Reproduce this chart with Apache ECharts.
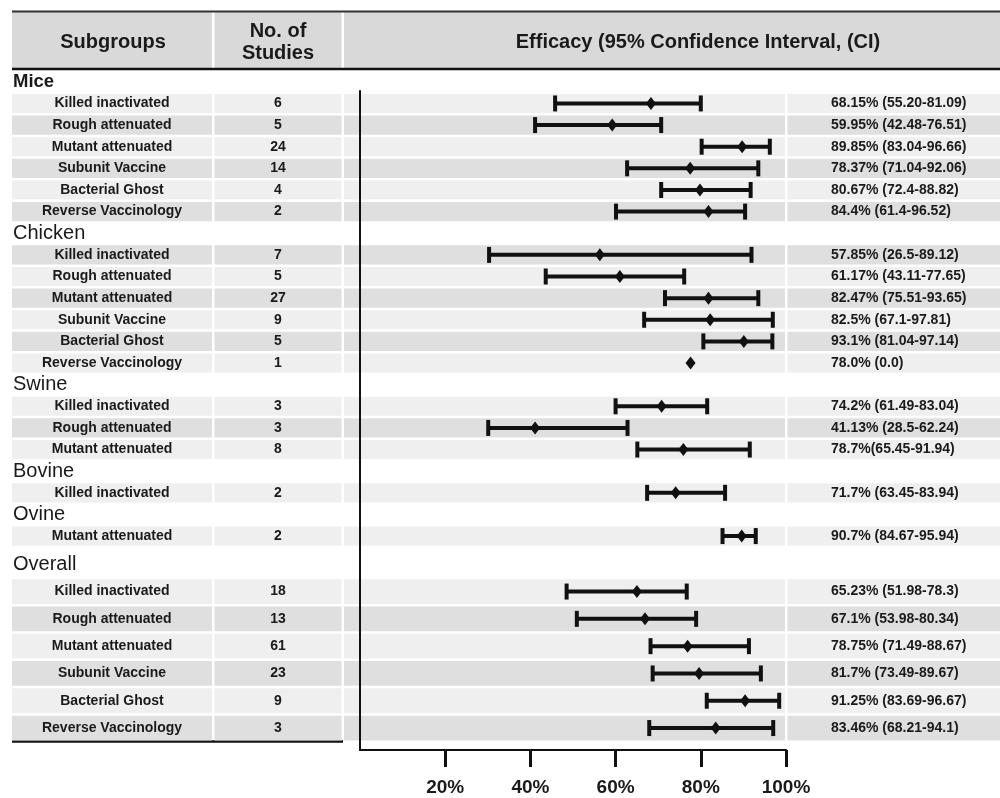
<!DOCTYPE html>
<html>
<head>
<meta charset="utf-8">
<script src="https://cdn.jsdelivr.net/npm/echarts@6/dist/echarts.min.js"></script>
<style>html,body{margin:0;padding:0;background:#fff;}#c{width:1000px;height:798px;}</style>
</head>
<body>
<div id="c"></div>
<script>
// ---------------- data ----------------
const rowNames = [
  'Mice','Killed inactivated','Rough attenuated','Mutant attenuated','Subunit Vaccine','Bacterial Ghost','Reverse Vaccinology',
  'Chicken','Killed inactivated','Rough attenuated','Mutant attenuated','Subunit Vaccine','Bacterial Ghost','Reverse Vaccinology',
  'Swine','Killed inactivated','Rough attenuated','Mutant attenuated',
  'Bovine','Killed inactivated',
  'Ovine','Mutant attenuated',
  'Overall','Killed inactivated','Rough attenuated','Mutant attenuated','Subunit Vaccine','Bacterial Ghost','Reverse Vaccinology'
];
const studies = [null,6,5,24,14,4,2, null,7,5,27,9,5,1, null,3,3,8, null,2, null,2, null,18,13,61,23,9,3];
const ciText = [null,'68.15% (55.20-81.09)','59.95% (42.48-76.51)','89.85% (83.04-96.66)','78.37% (71.04-92.06)','80.67% (72.4-88.82)','84.4% (61.4-96.52)',
  null,'57.85% (26.5-89.12)','61.17% (43.11-77.65)','82.47% (75.51-93.65)','82.5% (67.1-97.81)','93.1% (81.04-97.14)','78.0% (0.0)',
  null,'74.2% (61.49-83.04)','41.13% (28.5-62.24)','78.7%(65.45-91.94)',
  null,'71.7% (63.45-83.94)',
  null,'90.7% (84.67-95.94)',
  null,'65.23% (51.98-78.3)','67.1% (53.98-80.34)','78.75% (71.49-88.67)','81.7% (73.49-89.67)','91.25% (83.69-96.67)','83.46% (68.21-94.1)'];
// values as drawn in the picture (read against the x axis)
const ciLow  = [null,45.8,41.1,80.2,62.7,70.7,60.1, null,30.3,43.6,71.6,66.7,80.6,null, null,60.0,30.1,65.1, null,67.4, null,85.1, null,48.5,50.9,68.2,68.7,81.4,67.9];
const ciMid  = [null,68.3,59.2,89.7,77.5,79.8,81.8, null,56.3,61.0,81.8,82.2,90.1,77.6, null,70.8,41.1,75.9, null,74.1, null,89.6, null,65.0,66.9,76.9,79.6,90.4,83.5];
const ciHigh = [null,80.0,70.7,96.2,93.5,91.7,90.4, null,91.9,76.1,93.5,96.9,96.8,null, null,81.5,62.8,91.5, null,85.7, null,92.9, null,76.7,78.9,91.3,94.1,98.4,97.0];
const xTicks = [20,40,60,80,100];
const headerTexts = ['Subgroups','No. of\nStudies','Efficacy (95% Confidence Interval, (CI)'];

// ---------------- layout / style ----------------
const FONT = '"Liberation Sans", Arial, sans-serif';
const LIGHT = '#efefef', DARK = '#dfdfdf', INK = '#1a1a1a';
const SPLIT = 22; // first row of the "Overall" section

function tableRender(offset) {
  return function (params, api) {
    const li = api.value(1);
    const r = offset + li;
    const y = api.coord([0, li])[1];
    const pitch = api.size([0, 1])[1];
    const h = pitch - 2.5;
    const top = y - h / 2;
    if (studies[r] == null) {
      return {
        type: 'text',
        style: {
          text: rowNames[r], x: 13, y: y, fill: INK,
          font: (r === 0 ? 'bold 18.5px ' : '20px ') + FONT,
          align: 'left', verticalAlign: 'middle'
        }
      };
    }
    const fill = r % 2 === 0 ? DARK : LIGHT;
    const tf = 'bold 14px ' + FONT;
    return {
      type: 'group',
      children: [
        {type: 'rect', shape: {x: 12, y: top, width: 200, height: h}, style: {fill: fill}},
        {type: 'rect', shape: {x: 214.5, y: top, width: 127, height: h}, style: {fill: fill}},
        {type: 'rect', shape: {x: 344, y: top, width: 441, height: h}, style: {fill: fill}},
        {type: 'rect', shape: {x: 787.5, y: top, width: 212.5, height: h}, style: {fill: fill}},
        {type: 'text', style: {text: rowNames[r], x: 112, y: y, fill: INK, font: tf, align: 'center', verticalAlign: 'middle'}},
        {type: 'text', style: {text: String(studies[r]), x: 278, y: y, fill: INK, font: tf, align: 'center', verticalAlign: 'middle'}},
        {type: 'text', style: {text: ciText[r], x: 831, y: y, fill: INK, font: tf, align: 'left', verticalAlign: 'middle'}}
      ]
    };
  };
}

function ciRender(offset) {
  return function (params, api) {
    const li = api.value(1);
    const r = offset + li;
    if (studies[r] == null) return null;
    const children = [];
    const mid = api.coord([ciMid[r], li]);
    const y = mid[1];
    if (ciLow[r] != null && ciHigh[r] != null) {
      const lo = api.coord([ciLow[r], li])[0];
      const hi = api.coord([ciHigh[r], li])[0];
      children.push({type: 'line', shape: {x1: lo, y1: y, x2: hi, y2: y}, style: {stroke: '#111', lineWidth: 4}});
      children.push({type: 'line', shape: {x1: lo, y1: y - 8, x2: lo, y2: y + 8}, style: {stroke: '#111', lineWidth: 4}});
      children.push({type: 'line', shape: {x1: hi, y1: y - 8, x2: hi, y2: y + 8}, style: {stroke: '#111', lineWidth: 4}});
    }
    const dw = 5, dh = 6.5;
    children.push({type: 'polygon', shape: {points: [[mid[0], y - dh], [mid[0] + dw, y], [mid[0], y + dh], [mid[0] - dw, y]]}, style: {fill: '#111'}});
    return {type: 'group', children: children};
  };
}

const secA = rowNames.slice(0, SPLIT);
const secB = rowNames.slice(SPLIT);
const idxData = (arr) => arr.map((_, i) => [0, i]);

const hiddenX = (gi) => ({type: 'value', gridIndex: gi, min: 0, max: 100, show: false});
const hiddenY = (gi, data) => ({type: 'category', gridIndex: gi, data: data, inverse: true, show: false});

const option = {
  animation: false,
  backgroundColor: '#fff',
  grid: [
    {left: 360, width: 426, top: 71.0, height: 475.9},
    {left: 360, width: 426, top: 550.6, height: 191.1},
    {left: 360, width: 426, top: 91, height: 659}
  ],
  xAxis: [
    hiddenX(0), hiddenX(1),
    {
      type: 'value', gridIndex: 2, min: 0, max: 100, z: 5,
      axisLine: {show: true, lineStyle: {color: '#111', width: 2}},
      axisTick: {show: true, customValues: xTicks, length: 17, lineStyle: {color: '#111', width: 3}},
      axisLabel: {customValues: xTicks, formatter: '{value}%', margin: 28, color: INK,
        fontSize: 19, fontWeight: 'bold', fontFamily: FONT},
      splitLine: {show: false}
    }
  ],
  yAxis: [
    hiddenY(0, secA), hiddenY(1, secB),
    {
      type: 'value', gridIndex: 2, min: 0, max: 1, z: 5,
      axisLine: {show: true, lineStyle: {color: '#111', width: 2}},
      axisTick: {show: false}, axisLabel: {show: false}, splitLine: {show: false}
    }
  ],
  graphic: [
    {type: 'rect', shape: {x: 12, y: 12, width: 988, height: 57}, style: {fill: '#d9d9d9'}},
    {type: 'rect', shape: {x: 212, y: 12, width: 2.5, height: 57}, style: {fill: '#fff'}},
    {type: 'rect', shape: {x: 341.5, y: 12, width: 2.5, height: 57}, style: {fill: '#fff'}},
    {type: 'line', shape: {x1: 12, y1: 11.5, x2: 1000, y2: 11.5}, style: {stroke: '#333', lineWidth: 2}},
    {type: 'line', shape: {x1: 12, y1: 69, x2: 1000, y2: 69}, style: {stroke: '#111', lineWidth: 2.5}},
    {type: 'text', style: {text: headerTexts[0], x: 113, y: 42, fill: INK, font: 'bold 20px ' + FONT, align: 'center', verticalAlign: 'middle'}},
    {type: 'text', style: {text: headerTexts[1], x: 278, y: 42, fill: INK, font: 'bold 20px ' + FONT, align: 'center', verticalAlign: 'middle', lineHeight: 22}},
    {type: 'text', style: {text: headerTexts[2], x: 698, y: 42, fill: INK, font: 'bold 20px ' + FONT, align: 'center', verticalAlign: 'middle'}},
    {type: 'line', shape: {x1: 12, y1: 741.5, x2: 343, y2: 741.5}, style: {stroke: '#111', lineWidth: 2.5}}
  ],
  series: [
    {type: 'custom', xAxisIndex: 0, yAxisIndex: 0, z: 1, data: idxData(secA), renderItem: tableRender(0), silent: true},
    {type: 'custom', xAxisIndex: 1, yAxisIndex: 1, z: 1, data: idxData(secB), renderItem: tableRender(SPLIT), silent: true},
    {type: 'custom', xAxisIndex: 0, yAxisIndex: 0, z: 6, data: idxData(secA), renderItem: ciRender(0), silent: true},
    {type: 'custom', xAxisIndex: 1, yAxisIndex: 1, z: 6, data: idxData(secB), renderItem: ciRender(SPLIT), silent: true}
  ]
};

const chart = echarts.init(document.getElementById('c'), null, {renderer: 'canvas'});
chart.setOption(option);
</script>
</body>
</html>
